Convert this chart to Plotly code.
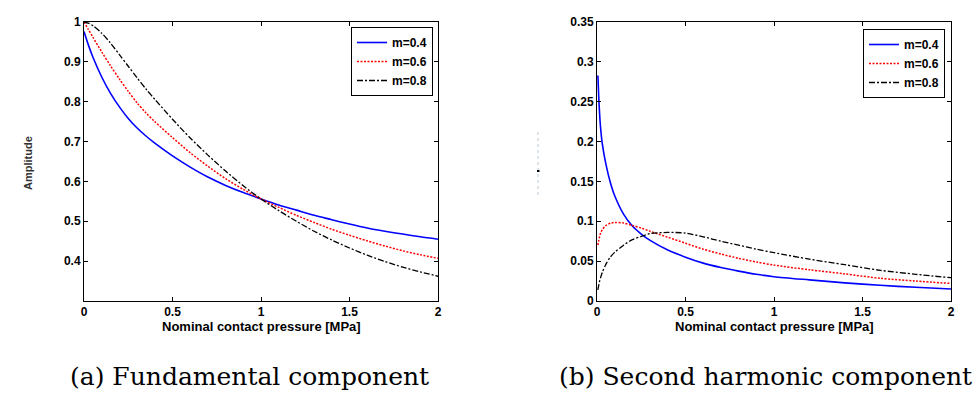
import plotly.graph_objects as go

# ---- data: fundamental component ----
x_fund = [0.0, 0.025, 0.05, 0.1, 0.15, 0.2, 0.25, 0.3, 0.35, 0.4, 0.5, 0.6, 0.7, 0.8, 0.9, 1.0,
          1.1, 1.2, 1.3, 1.4, 1.5, 1.6, 1.7, 1.8, 1.9, 2.0]
fund_m04 = [0.976, 0.942, 0.912, 0.862, 0.821, 0.787, 0.758, 0.734, 0.714, 0.696, 0.664, 0.636,
            0.611, 0.59, 0.572, 0.556, 0.541, 0.528, 0.515, 0.504, 0.493, 0.483, 0.475, 0.468,
            0.461, 0.455]
fund_m06 = [1.0, 0.981, 0.962, 0.925, 0.89, 0.857, 0.826, 0.797, 0.772, 0.75, 0.71, 0.672,
            0.638, 0.607, 0.58, 0.556, 0.535, 0.515, 0.497, 0.48, 0.465, 0.451, 0.438, 0.426,
            0.416, 0.407]
fund_m08 = [1.0, 0.997, 0.991, 0.972, 0.947, 0.918, 0.889, 0.86, 0.832, 0.806, 0.756, 0.709,
            0.666, 0.626, 0.589, 0.556, 0.527, 0.5, 0.475, 0.453, 0.433, 0.415, 0.399, 0.385,
            0.373, 0.362]

# ---- data: second harmonic component ----
x_harm = [0.005, 0.01, 0.015, 0.02, 0.03, 0.05, 0.075, 0.1, 0.15, 0.2, 0.25, 0.3, 0.4, 0.5,
          0.6, 0.7, 0.8, 0.9, 1.0, 1.2, 1.4, 1.6, 1.8, 2.0]
harm_m04 = [0.283, 0.255, 0.234, 0.218, 0.197, 0.172, 0.149, 0.132, 0.109, 0.094, 0.084, 0.076,
            0.064, 0.055, 0.0475, 0.042, 0.0375, 0.0335, 0.0305, 0.0265, 0.0228, 0.0197, 0.0172, 0.0151]
harm_m06 = [0.070, 0.076, 0.081, 0.085, 0.0895, 0.0945, 0.0975, 0.0985, 0.0978, 0.0948, 0.0915,
            0.0875, 0.08, 0.0725, 0.065, 0.059, 0.0535, 0.049, 0.045, 0.0392, 0.034, 0.0285, 0.025, 0.022]
harm_m08 = [0.0138, 0.02, 0.025, 0.029, 0.036, 0.046, 0.055, 0.061, 0.07, 0.077, 0.081, 0.0845,
            0.086, 0.0852, 0.0805, 0.075, 0.07, 0.065, 0.0606, 0.0525, 0.0455, 0.0385, 0.0335, 0.0292]

series_names = ["m=0.4", "m=0.6", "m=0.8"]
colors = ["#0000FF", "#FF0000", "#000000"]
dashes = ["solid", "2px,1.5px", "6px,2px,2px,2px"]
widths = [1.6, 1.5, 1.3]

x_ticks = [0, 0.5, 1, 1.5, 2]
x_ticklabels = ["0", "0.5", "1", "1.5", "2"]
y1_ticks = [0.4, 0.5, 0.6, 0.7, 0.8, 0.9, 1]
y1_ticklabels = ["0.4", "0.5", "0.6", "0.7", "0.8", "0.9", "1"]
y2_ticks = [0, 0.05, 0.1, 0.15, 0.2, 0.25, 0.3, 0.35]
y2_ticklabels = ["0", "0.05", "0.1", "0.15", "0.2", "0.25", "0.3", "0.35"]

x_title = "Nominal contact pressure [MPa]"
y_title = "Amplitude"
captions = ["(a) Fundamental component", "(b) Second harmonic component"]

fig = go.Figure()
for ys, name, c, d, w in zip([fund_m04, fund_m06, fund_m08], series_names, colors, dashes, widths):
    fig.add_trace(go.Scatter(x=x_fund, y=ys, name=name, mode="lines",
                             line=dict(color=c, dash=d, width=w, shape="spline", smoothing=0.8),
                             xaxis="x", yaxis="y", legend="legend"))
for ys, name, c, d, w in zip([harm_m04, harm_m06, harm_m08], series_names, colors, dashes, widths):
    fig.add_trace(go.Scatter(x=x_harm, y=ys, name=name, mode="lines",
                             line=dict(color=c, dash=d, width=w, shape="spline", smoothing=0.8),
                             xaxis="x2", yaxis="y2", legend="legend2"))

W, H = 976, 400
SANS = "Arial"
tickfont = dict(family=SANS, size=12, color="black", weight="bold")
axis_common = dict(showgrid=False, zeroline=False, showline=True, linecolor="black",
                   linewidth=1, mirror="ticks", ticks="inside", ticklen=4,
                   tickcolor="black", tickfont=tickfont, automargin=False)

legend_common = dict(bgcolor="white", bordercolor="black", borderwidth=1,
                     font=dict(family=SANS, size=12, color="black", weight="bold"),
                     xanchor="right", yanchor="top", tracegroupgap=0, itemwidth=30)

fig.update_layout(
    width=W, height=H, margin=dict(l=0, r=0, t=0, b=0, pad=0, autoexpand=False), autosize=False,
    paper_bgcolor="white", plot_bgcolor="white", showlegend=True,
    xaxis=dict(domain=[84 / W, 438 / W], range=[0, 2], tickvals=x_ticks,
               ticktext=x_ticklabels, anchor="y", **axis_common),
    yaxis=dict(domain=[1 - 301 / H, 1 - 22 / H], range=[0.3, 1], tickvals=y1_ticks,
               ticktext=y1_ticklabels, anchor="x", **axis_common),
    xaxis2=dict(domain=[597 / W, 951 / W], range=[0, 2], tickvals=x_ticks,
                ticktext=x_ticklabels, anchor="y2", **axis_common),
    yaxis2=dict(domain=[1 - 301 / H, 1 - 22 / H], range=[0, 0.35], tickvals=y2_ticks,
                ticktext=y2_ticklabels, anchor="x2", **axis_common),
    legend=dict(x=433 / W, y=1 - 27 / H, **legend_common),
    legend2=dict(x=945 / W, y=1 - 29 / H, **legend_common),
)

title_font = dict(family=SANS, size=13, color="black", weight="bold")
annotations = [
    dict(text=x_title, x=(84 + 438) / 2 / W, y=1 - 326 / H, xref="paper", yref="paper",
         showarrow=False, font=title_font, xanchor="center", yanchor="middle"),
    dict(text=x_title, x=(597 + 951) / 2 / W, y=1 - 326 / H, xref="paper", yref="paper",
         showarrow=False, font=title_font, xanchor="center", yanchor="middle"),
    dict(text=y_title, x=28 / W, y=1 - 163 / H, xref="paper", yref="paper", textangle=-90,
         showarrow=False, font=dict(family=SANS, size=11, color="#333333", weight="bold"),
         xanchor="center", yanchor="middle"),
    dict(text=captions[0], x=(73 + 427) / 2 / W, y=1 - 376 / H, xref="paper", yref="paper",
         showarrow=False, font=dict(family="DejaVu Serif", size=25, color="black"),
         xanchor="center", yanchor="middle"),
    dict(text=captions[1], x=(563 + 967) / 2 / W, y=1 - 376 / H, xref="paper", yref="paper",
         showarrow=False, font=dict(family="DejaVu Serif", size=25, color="black"),
         xanchor="center", yanchor="middle"),
]
fig.update_layout(annotations=annotations)

# faint remnant of the right-hand y label
fig.add_shape(type="line", xref="paper", yref="paper", x0=538 / W, x1=538 / W,
              y0=1 - 195 / H, y1=1 - 132 / H,
              line=dict(color="#B8CCD8", width=1, dash="dot"))
fig.add_shape(type="rect", xref="paper", yref="paper", x0=537 / W, x1=539.5 / W,
              y0=1 - 172 / H, y1=1 - 170 / H, line=dict(width=0), fillcolor="black")

fig.write_html("out.html", config={"displayModeBar": False, "responsive": False},
               post_script="document.body.style.margin='0';document.body.style.overflow='hidden';")
